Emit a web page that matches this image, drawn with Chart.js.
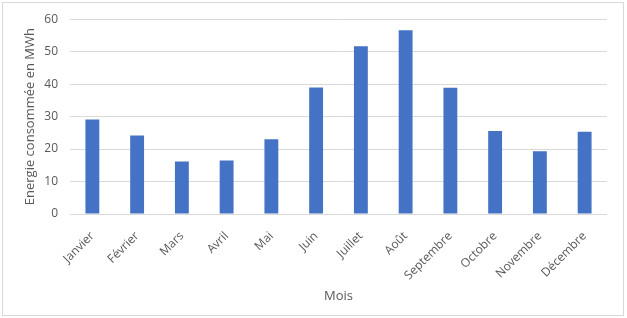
<!DOCTYPE html>
<html>
<head>
<meta charset="utf-8">
<script src="https://cdn.jsdelivr.net/npm/chart.js@4/dist/chart.umd.min.js"></script>
<style>
  body { margin: 0; background: #fff; }
  #frame { position: absolute; left: 2px; top: 2px; width: 620px; height: 312px; border: 1px solid #d9d9d9; }
  #chart { position: absolute; left: 0; top: 0; }
</style>
</head>
<body>
<div id="frame"></div>
<canvas id="chart" width="627" height="318"></canvas>
<script>
  // Données
  const months = ['Janvier', 'Février', 'Mars', 'Avril', 'Mai', 'Juin', 'Juillet', 'Août', 'Septembre', 'Octobre', 'Novembre', 'Décembre'];
  const energy = [29.1, 24.2, 16.2, 16.5, 23, 39, 51.7, 56.6, 38.9, 25.6, 19.3, 25.3];
  const yTicks = [0, 10, 20, 30, 40, 50, 60];

  const font = "'Open Sans', sans-serif";
  const grey = '#595959';

  new Chart(document.getElementById('chart').getContext('2d'), {
    type: 'bar',
    data: {
      labels: months,
      datasets: [{
        data: energy,
        backgroundColor: '#4472C4',
        categoryPercentage: 1,
        barPercentage: 0.31
      }]
    },
    options: {
      responsive: false,
      animation: false,
      layout: { padding: { left: 0, right: 20, top: 18, bottom: 0 } },
      plugins: { legend: { display: false }, tooltip: { enabled: false } },
      scales: {
        x: {
          grid: { display: false },
          border: { display: false },
          ticks: { color: grey, font: { family: font, size: 12 }, minRotation: 45, maxRotation: 45, padding: 7, autoSkip: false },
          title: { display: true, text: 'Mois', color: grey, font: { family: font, size: 13 }, padding: { top: 6, bottom: 14 } },
          afterFit: s => { s.height = 104; }
        },
        y: {
          min: 0,
          max: 60,
          afterBuildTicks: s => { s.ticks = yTicks.map(v => ({ value: v })); },
          grid: { color: '#d9d9d9', drawTicks: false },
          border: { display: false },
          ticks: { color: grey, font: { family: font, size: 12 }, padding: 12 },
          title: { display: true, text: 'Energie consommée en MWh', color: grey, font: { family: font, size: 13 }, padding: { top: 22, bottom: 0 } },
          afterFit: s => { s.width = 70; }
        }
      }
    }
  });
</script>
</body>
</html>
